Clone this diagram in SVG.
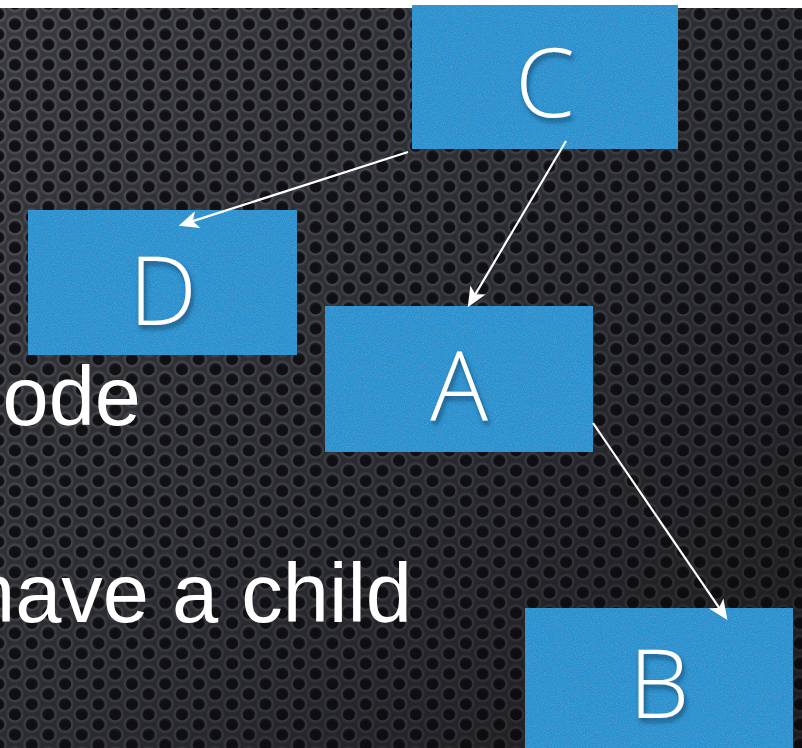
<svg xmlns="http://www.w3.org/2000/svg" width="802" height="748" viewBox="0 0 802 748">
  <style>
    .box { fill: #2891ce; filter: url(#grain); }
    .letter { font-family: "Open Sans", "Liberation Sans", sans-serif; font-weight: 300; font-size: 96px; fill: #ffffff; text-anchor: middle; filter: url(#textShadow); }
    .body { font-family: "Liberation Sans", Arial, sans-serif; font-size: 83px; fill: #ffffff; text-anchor: end; }
    .edge { stroke: #ffffff; stroke-width: 2.2; fill: none; marker-end: url(#head); }
  </style>
  <defs>
    <radialGradient id="rim">
      <stop offset="0.62" stop-color="#60636a"/>
      <stop offset="0.8" stop-color="#4c4e53"/>
      <stop offset="1" stop-color="#37383c"/>
    </radialGradient>
    <radialGradient id="hole" cx="0.5" cy="0.6" r="0.55">
      <stop offset="0.7" stop-color="#121013"/>
      <stop offset="1" stop-color="#242427"/>
    </radialGradient>
    <pattern id="mesh" patternUnits="userSpaceOnUse" x="15" y="24" width="33.4" height="20.3">
      <rect width="33.4" height="20.3" fill="#37383c"/>
      <g fill="url(#rim)">
        <circle cx="0" cy="0" r="9.6"/>
        <circle cx="33.4" cy="0" r="9.6"/>
        <circle cx="0" cy="20.3" r="9.6"/>
        <circle cx="33.4" cy="20.3" r="9.6"/>
        <circle cx="16.7" cy="10.15" r="9.6"/>
      </g>
      <g fill="url(#hole)">
        <circle cx="0" cy="0" r="6.3"/>
        <circle cx="33.4" cy="0" r="6.3"/>
        <circle cx="0" cy="20.3" r="6.3"/>
        <circle cx="33.4" cy="20.3" r="6.3"/>
        <circle cx="16.7" cy="10.15" r="6.3"/>
      </g>
    </pattern>
    <linearGradient id="shade" x1="0" y1="0" x2="1" y2="1">
      <stop offset="0" stop-color="#0a0c12" stop-opacity="0"/>
      <stop offset="0.5" stop-color="#0a0c12" stop-opacity="0.3"/>
      <stop offset="1" stop-color="#0a0608" stop-opacity="0.6"/>
    </linearGradient>
    <filter id="grain" x="0" y="0" width="1" height="1">
      <feTurbulence type="fractalNoise" baseFrequency="0.9" numOctaves="2" seed="7" result="n"/>
      <feColorMatrix in="n" type="matrix" values="0 0 0 0 0.55  0 0 0 0 0.8  0 0 0 0 1  0.22 0 0 0 -0.08" result="w"/>
      <feComposite in="w" in2="SourceGraphic" operator="in" result="wc"/>
      <feMerge>
        <feMergeNode in="SourceGraphic"/>
        <feMergeNode in="wc"/>
      </feMerge>
    </filter>
    <filter id="textShadow" x="-20%" y="-20%" width="150%" height="150%">
      <feDropShadow dx="2" dy="4" stdDeviation="2.5" flood-color="#0b3a60" flood-opacity="0.7"/>
    </filter>
    <marker id="head" markerUnits="userSpaceOnUse" markerWidth="30" markerHeight="30" viewBox="-10 -10 24 20" refX="0" refY="0" orient="auto" overflow="visible">
      <path d="M10,0 L-6,-7 L-2,0 L-6,7 Z" fill="#ffffff"/>
    </marker>
  </defs>

  <!-- backdrop: white strip and perforated metal -->
  <rect x="0" y="0" width="802" height="748" fill="#ffffff"/>
  <rect x="0" y="8" width="802" height="740" fill="url(#mesh)"/>
  <rect x="0" y="8" width="802" height="740" fill="url(#shade)"/>

  <!-- slide body text behind the tree -->
  <text class="body" x="141" y="425">node</text>
  <text class="body" x="412" y="622">have a child</text>

  <g id="node-C">
    <rect class="box" x="412" y="5" width="266" height="144"/>
    <text class="letter" x="545" y="117">C</text>
  </g>
  <g id="node-D">
    <rect class="box" x="28" y="210" width="269" height="145"/>
    <text class="letter" x="163" y="325">D</text>
  </g>
  <g id="node-A">
    <rect class="box" x="325" y="306" width="268" height="146"/>
    <text class="letter" x="459" y="420">A</text>
  </g>
  <g id="node-B">
    <rect class="box" x="525" y="608" width="268" height="145"/>
    <text class="letter" x="659" y="718">B</text>
  </g>

  <!-- connectors, drawn over the boxes -->
  <g id="edges">
    <line class="edge" x1="408" y1="152" x2="190.5" y2="221.9"/>
    <line class="edge" x1="566" y1="141" x2="474.1" y2="296.4"/>
    <line class="edge" x1="593" y1="423" x2="720.4" y2="609.7"/>
  </g>
</svg>
